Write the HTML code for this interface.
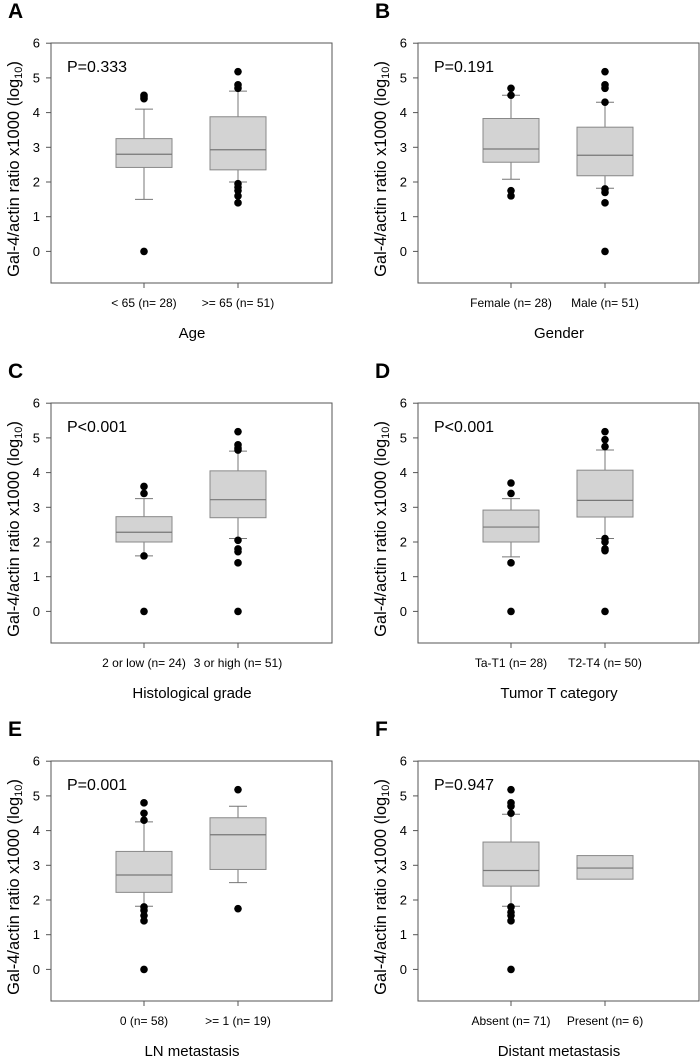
<!DOCTYPE html>
<html><head><meta charset="utf-8">
<style>
body{margin:0;background:#fff;}
svg{display:block;font-family:"Liberation Sans",Arial,sans-serif;}
</style></head>
<body>
<svg id="fig" width="700" height="1060" viewBox="0 0 700 1060"></svg>
<script>
// ---- data ----
const panelLetters = ["A","B","C","D","E","F"];
const pValues = ["P=0.333","P=0.191","P<0.001","P<0.001","P=0.001","P=0.947"];
const xTitles = ["Age","Gender","Histological grade","Tumor T category","LN metastasis","Distant metastasis"];
const categories = [
  ["< 65 (n= 28)",">= 65 (n= 51)"],
  ["Female (n= 28)","Male (n= 51)"],
  ["2 or low (n= 24)","3 or high (n= 51)"],
  ["Ta-T1 (n= 28)","T2-T4 (n= 50)"],
  ["0 (n= 58)",">= 1 (n= 19)"],
  ["Absent (n= 71)","Present (n= 6)"]
];
// [lowerWhisker, q1, median, q3, upperWhisker] ; null whisker = none
const boxStats = [
  [[1.5,2.42,2.8,3.25,4.1],[2.0,2.35,2.93,3.88,4.62]],
  [[2.08,2.57,2.95,3.83,4.5],[1.82,2.18,2.77,3.58,4.3]],
  [[1.6,2.0,2.28,2.73,3.25],[2.1,2.7,3.22,4.05,4.62]],
  [[1.57,2.0,2.43,2.92,3.25],[2.1,2.72,3.2,4.07,4.65]],
  [[1.82,2.22,2.72,3.4,4.25],[2.5,2.88,3.88,4.37,4.7]],
  [[1.82,2.4,2.85,3.67,4.47],[null,2.6,2.92,3.28,null]]
];
const outliers = [
  [[4.5,4.4,4.45,0],[5.18,4.8,4.7,1.95,1.85,1.75,1.6,1.4]],
  [[4.7,4.5,1.75,1.6],[5.18,4.8,4.7,4.3,1.8,1.7,1.4,0]],
  [[3.6,3.4,1.6,0],[5.18,4.8,4.7,4.65,2.05,1.8,1.72,1.4,0]],
  [[3.7,3.4,1.4,0],[5.18,4.95,4.75,2.1,2.0,1.8,1.75,0]],
  [[4.8,4.5,4.3,1.8,1.7,1.55,1.4,0],[5.18,1.75]],
  [[5.18,4.8,4.7,4.5,1.8,1.65,1.55,1.4,0],[]]
];
const yTicks = [0,1,2,3,4,5,6];

// ---- drawing ----
const NS="http://www.w3.org/2000/svg";
const svg=document.getElementById('fig');
function mk(tag,attrs,parent){const e=document.createElementNS(NS,tag);for(const k in attrs)e.setAttribute(k,attrs[k]);(parent||svg).appendChild(e);return e;}
const colX=[0,367], rowY=[43,403,761];
const W=281, H=240, unit=34.7;
panelLetters.forEach((L,i)=>{
  const ox=colX[i%2], oy=rowY[Math.floor(i/2)];
  const left=51+ox, top=oy, right=left+W, bottom=top+H;
  const y0=top+208.4;
  const yS=v=>y0-v*unit;
  const xS=c=>left+93+c*94;
  const g=mk('g',{});
  
  
  let t=mk('text',{x:8+ox,y:top-25,'font-size':21,'font-weight':'bold'},g);t.textContent=L;
  
  let r=mk('rect',{x:left,y:top,width:W,height:H,fill:'none',stroke:'#555','stroke-width':1},g);
  
  yTicks.forEach(v=>{
    mk('line',{x1:left-5,x2:left,y1:yS(v),y2:yS(v),stroke:'#555'},g);
    const tt=mk('text',{x:left-11,y:yS(v)+4.5,'font-size':13,'text-anchor':'end'},g);tt.textContent=v;
    
  });
  const yt=mk('text',{transform:`translate(${ox+19},${top+126}) rotate(-90)`,'font-size':16.5,'text-anchor':'middle'},g);
  
  yt.innerHTML='Gal-4/actin ratio x1000 (log<tspan font-size="11" dy="3">10</tspan><tspan dy="-3">)</tspan>';
  const pt=mk('text',{x:left+16,y:top+29,'font-size':16},g);pt.textContent=pValues[i];
  
  const xt=mk('text',{x:left+141,y:bottom+55,'font-size':15,'text-anchor':'middle'},g);xt.textContent=xTitles[i];
  
  categories[i].forEach((c,ci)=>{
    const cx=xS(ci);
    mk('line',{x1:cx,x2:cx,y1:bottom,y2:bottom+5,stroke:'#555'},g);
    const ct=mk('text',{x:cx,y:bottom+24,'font-size':12,'text-anchor':'middle'},g);ct.textContent=c;
    
    const s=boxStats[i][ci];
    const bg=mk('g',{},g);
    
    if(s[0]!==null){mk('line',{x1:cx,x2:cx,y1:yS(s[0]),y2:yS(s[1]),stroke:'#777'},bg);mk('line',{x1:cx-9,x2:cx+9,y1:yS(s[0]),y2:yS(s[0]),stroke:'#777'},bg);}
    if(s[4]!==null){mk('line',{x1:cx,x2:cx,y1:yS(s[4]),y2:yS(s[3]),stroke:'#777'},bg);mk('line',{x1:cx-9,x2:cx+9,y1:yS(s[4]),y2:yS(s[4]),stroke:'#777'},bg);}
    mk('rect',{x:cx-28,y:yS(s[3]),width:56,height:yS(s[1])-yS(s[3]),fill:'#d3d3d3',stroke:'#888','stroke-width':1},bg);
    mk('line',{x1:cx-28,x2:cx+28,y1:yS(s[2]),y2:yS(s[2]),stroke:'#777','stroke-width':1.2},bg);
    outliers[i][ci].forEach(v=>{
      const d=mk('circle',{cx:cx,cy:yS(v),r:3.8,fill:'#000'},bg);
      
    });
  });
});
</script>
</body></html>
